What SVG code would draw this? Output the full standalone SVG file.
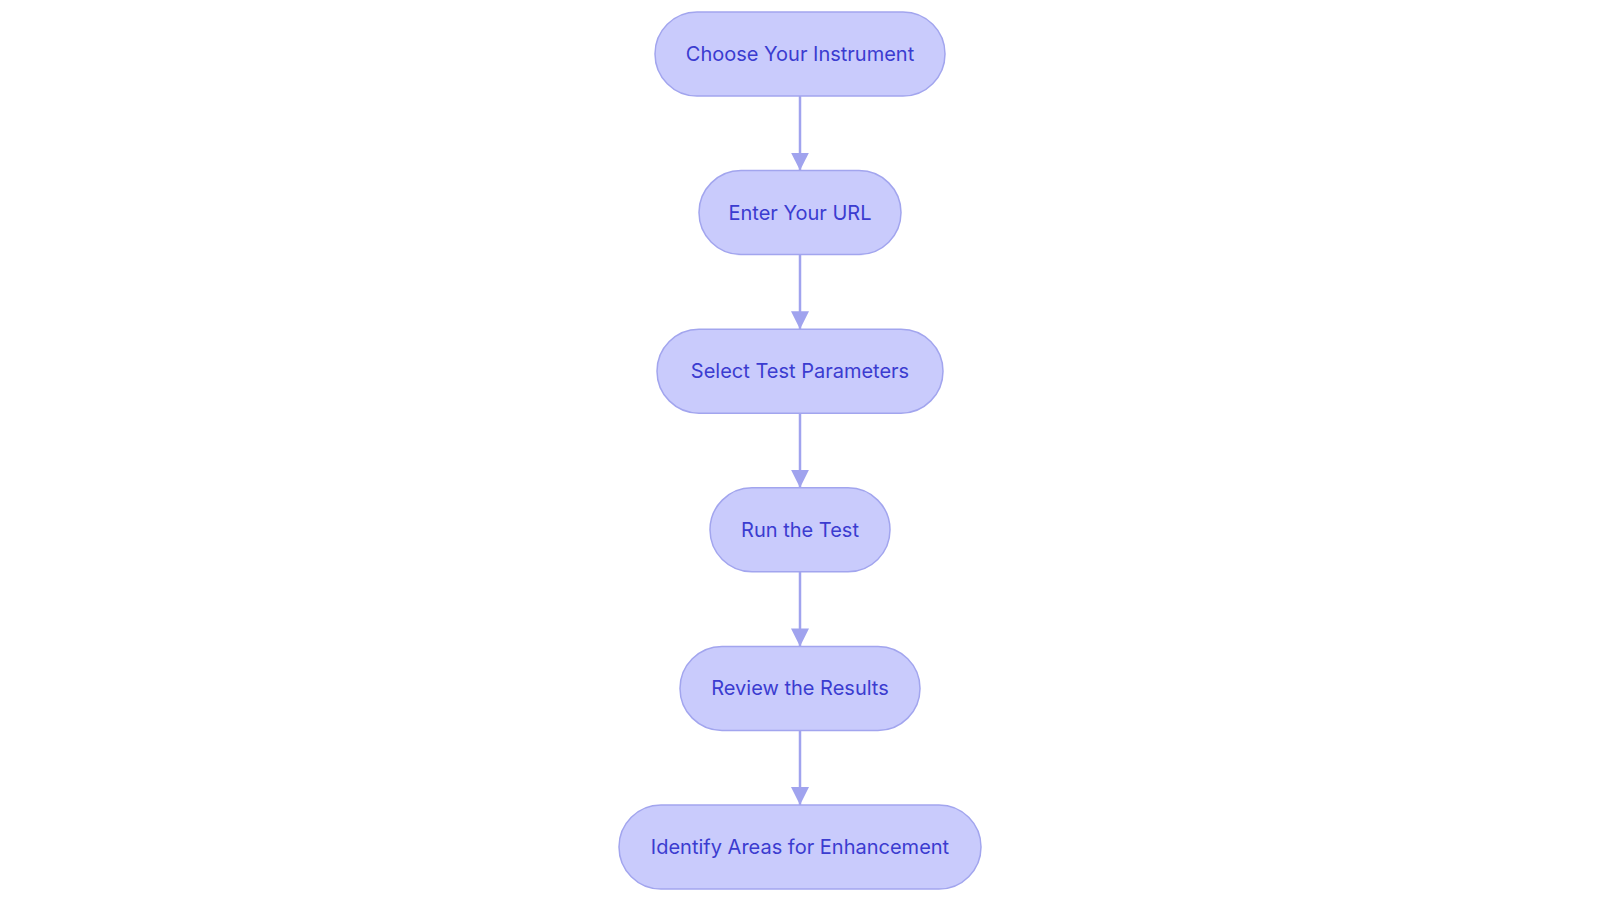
<svg xmlns="http://www.w3.org/2000/svg" width="1600" height="903" viewBox="0 0 1600 903">
<style>
.node rect{fill:#c9cbfc;stroke:#a2a5ee;stroke-width:1.5}
.node text{font-family:Inter,"Open Sans","Liberation Sans",sans-serif;font-size:20px;fill:#3b3cd0;text-anchor:middle;dominant-baseline:central}
.edge{stroke:#a0a3ee;stroke-width:2.5;fill:none}
</style>
<defs>
<marker id="arr" markerWidth="20" markerHeight="20" refX="18" refY="9" orient="auto" markerUnits="userSpaceOnUse" viewBox="0 0 20 18">
<path d="M0,0 L18,9 L0,18 Z" fill="#a0a3ee"/>
</marker>
</defs>
<rect width="1600" height="903" fill="#ffffff"/>
<g id="edges">
<line class="edge" x1="800" y1="96" x2="800" y2="170.6" marker-end="url(#arr)"/>
<line class="edge" x1="800" y1="254.6" x2="800" y2="329.2" marker-end="url(#arr)"/>
<line class="edge" x1="800" y1="413.2" x2="800" y2="487.8" marker-end="url(#arr)"/>
<line class="edge" x1="800" y1="571.8" x2="800" y2="646.4" marker-end="url(#arr)"/>
<line class="edge" x1="800" y1="730.4" x2="800" y2="805" marker-end="url(#arr)"/>
</g>
<g id="n1" class="node"><rect x="655" y="12" width="290" height="84" rx="42"/><text x="800" y="54">Choose Your Instrument</text></g>
<g id="n2" class="node"><rect x="699" y="170.6" width="202" height="84" rx="42"/><text x="800" y="212.6">Enter Your URL</text></g>
<g id="n3" class="node"><rect x="657" y="329.2" width="286" height="84" rx="42"/><text x="800" y="371.2">Select Test Parameters</text></g>
<g id="n4" class="node"><rect x="710" y="487.8" width="180" height="84" rx="42"/><text x="800" y="529.8">Run the Test</text></g>
<g id="n5" class="node"><rect x="680" y="646.4" width="240" height="84" rx="42"/><text x="800" y="688.4">Review the Results</text></g>
<g id="n6" class="node"><rect x="619" y="805" width="362" height="84" rx="42"/><text x="800" y="847">Identify Areas for Enhancement</text></g>
</svg>
